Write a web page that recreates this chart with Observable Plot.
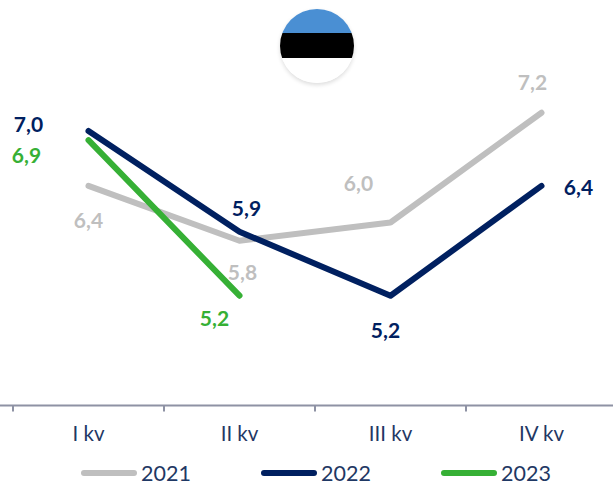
<!DOCTYPE html>
<html><head><meta charset="utf-8">
<script src="https://cdn.jsdelivr.net/npm/d3@7"></script>
<script src="https://cdn.jsdelivr.net/npm/@observablehq/plot@0.6"></script>
<style>
html,body{margin:0;padding:0;background:#fff;overflow:hidden}
#wrap{position:relative;width:613px;height:481px;font-family:Lato,sans-serif}
#flag{position:absolute;left:280px;top:9px;width:74px;height:74px;border-radius:50%;
background:linear-gradient(#4a8fd3 0 24px,#000 24px 49px,#fff 49px);box-shadow:0 2px 4px rgba(0,0,0,.14)}
.lg{position:absolute;top:465px;font-size:21.5px;line-height:16px;color:#1f3864;display:flex;align-items:center}
.lg i{display:block;width:56px;height:6px;border-radius:3px;margin-right:4px}
svg{position:absolute;left:0;top:0}
</style></head><body><div id="wrap"></div>
<script>
const quarters = ["I kv","II kv","III kv","IV kv"];
const years = ["2021","2022","2023"];
const v2021 = [6.4,5.8,6.0,7.2];
const v2022 = [7.0,5.9,5.2,6.4];
const v2023 = [6.9,5.2];
const colors = ["#bfbfbf","#002060","#36b035"];
const series = [v2021,v2022,v2023];
const rows = series.flatMap((vals,s)=>vals.map((v,i)=>({year:years[s],q:i+1,v,color:colors[s]})));
// label offsets (px) relative to each point, in rows order
const offX = [0,3,-32,-9,  -60,7,-5,37,  -62,-25];
const offY = [35,32,-38,-29, -6,-22,36,2, 16,24];
rows.forEach((r,i)=>{r.dx=offX[i];r.dy=offY[i];r.label=r.v.toFixed(1).replace(".",",");});
const boundaries = [0.5,1.5,2.5,3.5];

const plot = Plot.plot({
  width:613,height:481,margin:0,
  style:{fontFamily:"Lato,sans-serif",background:"transparent"},
  x:{type:"linear",domain:[0.5,4.5],range:[12.5,616.5],axis:null},
  y:{type:"linear",domain:[4,8],range:[405,39],axis:null},
  marks:[
    Plot.ruleX(boundaries,{y1:4,y2:3.93,stroke:"#8e92a4",strokeWidth:2}),
    Plot.ruleY([4],{stroke:"#8e92a4",strokeWidth:2}),
    Plot.text([1,2,3,4],{x:d=>d,y:()=>4,text:d=>quarters[d-1],dy:29,fontSize:20.5,fill:"#1f3864"}),
    ...years.map(y=>Plot.line(rows.filter(r=>r.year===y),{x:"q",y:"v",stroke:"color",strokeWidth:6,strokeLinecap:"round",strokeLinejoin:"round"})),
    ...rows.map(r=>Plot.text([r],{x:"q",y:"v",text:"label",dx:r.dx,dy:r.dy,fontSize:21,fontWeight:700,fill:"color"}))
  ]
});
const wrap=document.getElementById("wrap");
wrap.appendChild(plot);
const flag=document.createElement("div");flag.id="flag";wrap.appendChild(flag);
years.forEach((y,i)=>{
  const d=document.createElement("div");d.className="lg";d.style.left=(81+180*i)+"px";
  d.innerHTML=`<i style="background:${colors[i]}"></i><span>${y}</span>`;wrap.appendChild(d);
});
</script></body></html>
